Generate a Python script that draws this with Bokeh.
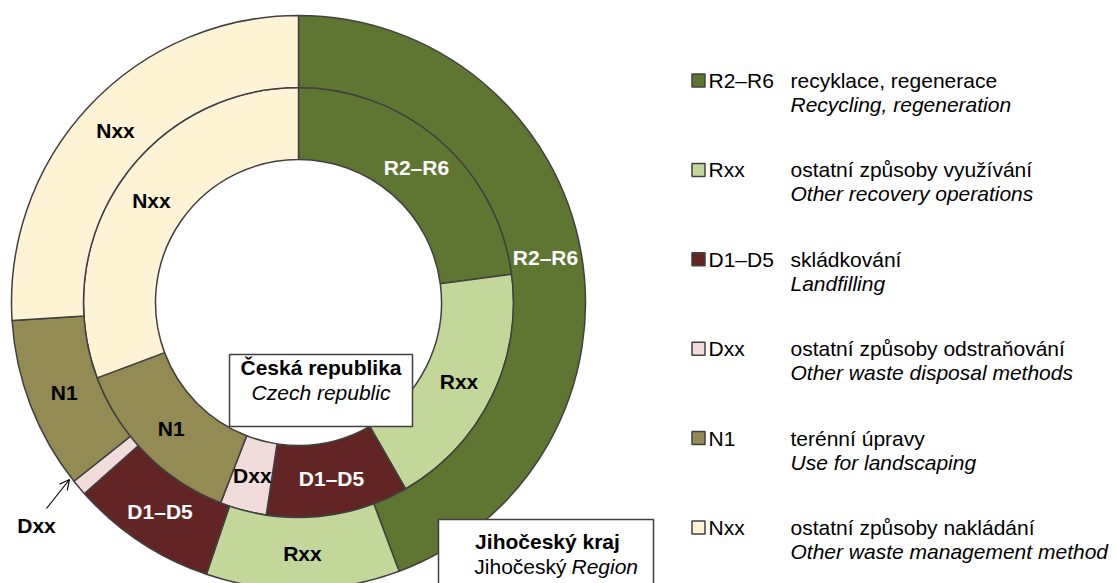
import numpy as np
from bokeh.plotting import figure
from bokeh.models import Range1d, ColumnDataSource, Label, Arrow, OpenHead
from bokeh.embed import file_html
from bokeh.resources import INLINE
from bokeh.core.properties import value

# ---------------- data ----------------
categories = ["R2–R6", "Rxx", "D1–D5", "Dxx", "N1", "Nxx"]
cz_values = [22.9, 18.8, 10.7, 3.5, 13.4, 30.7]      # Česká republika (inner ring), %
jc_values = [44.3, 10.9, 8.2, 0.9, 9.7, 26.0]        # Jihočeský kraj (outer ring), %
colors = ["#5F7632", "#C4D79B", "#632523", "#F2DCDB", "#948A54", "#FEF3D4"]
label_colors = ["white", "black", "white", "black", "black", "black"]
cz_desc = ["recyklace, regenerace", "ostatní způsoby využívání", "skládkování",
           "ostatní způsoby odstraňování", "terénní úpravy", "ostatní způsoby nakládání"]
en_desc = ["Recycling, regeneration", "Other recovery operations", "Landfilling",
           "Other waste disposal methods", "Use for landscaping", "Other waste management method"]

FONT = "Liberation Sans"
W, H = 1117, 583
p = figure(width=W, height=H, x_range=Range1d(0, W), y_range=Range1d(-H, 0),
           output_backend="svg", toolbar_location=None, min_border=0,
           x_axis_type=None, y_axis_type=None)
p.grid.visible = False
p.outline_line_color = None
p.background_fill_color = "white"

CX, CY = 298, -302
R0, R1, R2 = 143, 215, 287
LFS = "21px"


def ring(vals, rin, rout, skip_labels=()):
    frac = np.array(vals, dtype=float) / sum(vals)
    cum = np.concatenate([[0.0], np.cumsum(frac)])
    start = np.pi / 2 - 2 * np.pi * cum[:-1]
    end = np.pi / 2 - 2 * np.pi * cum[1:]
    mid = (start + end) / 2
    src = ColumnDataSource(dict(start=start, end=end, color=colors))
    p.annular_wedge(x=CX, y=CY, inner_radius=rin, outer_radius=rout,
                    start_angle="start", end_angle="end", direction="clock",
                    fill_color="color", line_color="#404040", line_width=1.5, source=src)
    rm = (rin + rout) / 2
    keep = [i for i in range(len(vals)) if categories[i] not in skip_labels]
    lsrc = ColumnDataSource(dict(
        x=[CX + rm * np.cos(mid[i]) for i in keep],
        y=[CY + rm * np.sin(mid[i]) for i in keep],
        t=[categories[i] for i in keep],
        c=[label_colors[i] for i in keep]))
    p.text(x="x", y="y", text="t", text_color="c", source=lsrc,
           text_font=value(FONT), text_font_style="bold", text_font_size=LFS,
           text_align="center", text_baseline="middle")
    return mid


ring(cz_values, R0, R1)
ring(jc_values, R1, R2, skip_labels=("Dxx",))

# outer Dxx callout (placed outside the ring, pointing at the thin slice)
p.add_layout(Arrow(end=OpenHead(size=10, line_width=1.2, line_color="black"),
                   x_start=46, y_start=-508, x_end=69, y_end=-479,
                   line_width=1.2, line_color="black"))
p.add_layout(Label(x=36, y=-525, text="Dxx", text_font=FONT, text_color="black",
                   text_font_style="bold", text_font_size=LFS,
                   text_align="center", text_baseline="middle"))

# ring name boxes
p.quad(left=[229, 438], right=[412, 653], top=[-354, -519], bottom=[-426, -620],
       fill_color="white", line_color="#404040", line_width=1.5)


def lab(x, y, t, style, align="center"):
    p.add_layout(Label(x=x, y=y, text=t, text_font=FONT, text_font_style=style, text_color="black",
                       text_font_size=LFS, text_align=align, text_baseline="middle"))


lab(320.5, -367, "Česká republika", "bold")
lab(320.5, -392, "Czech republic", "italic")
lab(547, -541, "Jihočeský kraj", "bold")
lab(566, -566, "Jihočeský", "normal", "right")
lab(571, -566, "Region", "italic", "left")

# legend
LY0, LSTEP = 80, 89.4
ly = [-(LY0 + k * LSTEP) for k in range(len(categories))]
leg = ColumnDataSource(dict(
    y=ly, y2=[v - 24 for v in ly], code=categories, cz=cz_desc, en=en_desc, color=colors))
p.scatter(x=698, y="y", marker="square", size=13, fill_color="color",
          line_color="#404040", line_width=1.5, source=leg)
p.text(x=708, y="y", text="code", source=leg, text_font=value(FONT), text_font_size=LFS,
       text_baseline="middle", text_align="left", text_color="black")
p.text(x=790, y="y", text="cz", source=leg, text_font=value(FONT), text_font_size=LFS,
       text_baseline="middle", text_align="left", text_color="black")
p.text(x=790, y="y2", text="en", source=leg, text_font=value(FONT), text_font_size=LFS,
       text_font_style="italic", text_baseline="middle", text_align="left", text_color="black")

open("out.html", "w").write(file_html(p, INLINE))
